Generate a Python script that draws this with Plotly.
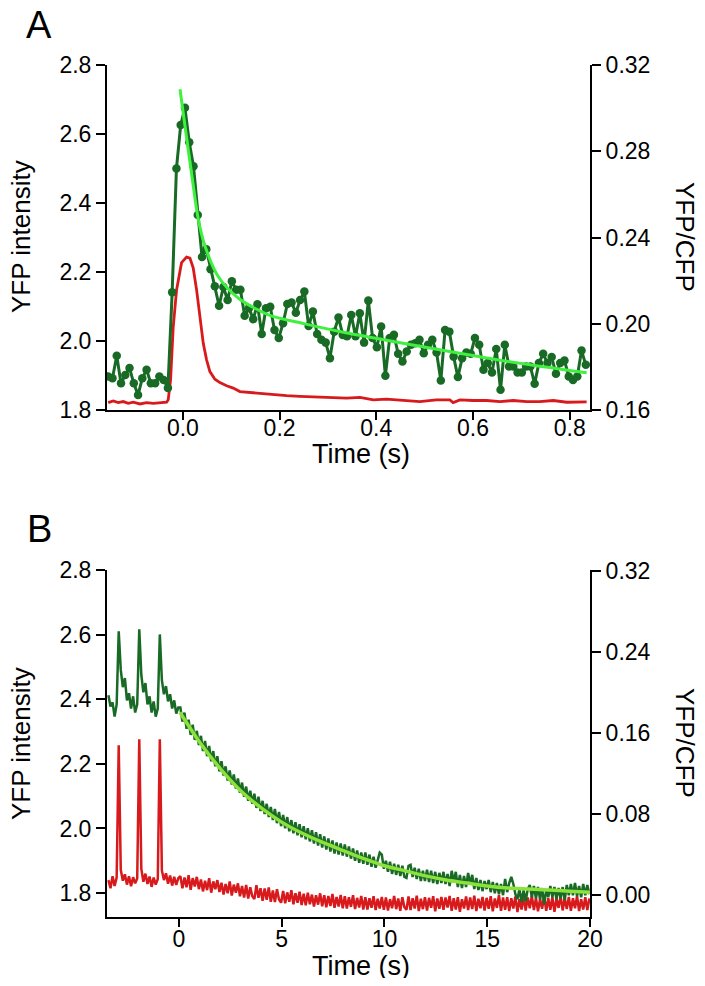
import plotly.graph_objects as go

# ---------------- Panel A data ----------------
A_T0 = -0.1545          # time of first sample (s)
A_DT = 0.00882          # sampling interval (s)
A_ratio = [0.1755, 0.1747, 0.1851, 0.1723, 0.1762, 0.1794, 0.1723, 0.1669, 0.1747, 0.1786,
           0.1723, 0.1723, 0.1755, 0.1739, 0.1701, 0.2146, 0.2720, 0.2922, 0.3002, 0.2842,
           0.2731, 0.2504, 0.2309, 0.2346, 0.2253, 0.2174, 0.2083, 0.2170, 0.2110, 0.2197,
           0.2157, 0.2157, 0.2037, 0.2072, 0.2021, 0.2090, 0.1952, 0.2072, 0.2078, 0.1971,
           0.1933, 0.2002, 0.2091, 0.2098, 0.2051, 0.2110, 0.2149, 0.1989, 0.2056, 0.1952,
           0.1925, 0.1912, 0.1840, 0.1963, 0.2029, 0.1947, 0.1942, 0.2040, 0.1942, 0.2048,
           0.1912, 0.2107, 0.1933, 0.1891, 0.1987, 0.1758, 0.1933, 0.1948, 0.1860, 0.1824,
           0.1871, 0.1902, 0.1909, 0.1925, 0.1863, 0.1902, 0.1925, 0.1866, 0.1736, 0.1971,
           0.1963, 0.1847, 0.1752, 0.1840, 0.1866, 0.1860, 0.1933, 0.1902, 0.1786, 0.1817,
           0.1773, 0.1882, 0.1693, 0.1902, 0.1801, 0.1801, 0.1773, 0.1773, 0.1801, 0.1801,
           0.1721, 0.1817, 0.1860, 0.1817, 0.1845, 0.1767, 0.1817, 0.1829, 0.1755, 0.1739,
           0.1755, 0.1875, 0.1809]
A_time = [A_T0 + i * A_DT for i in range(len(A_ratio))]

A_red_t = [-0.1545, -0.1441, -0.1338, -0.1234, -0.1131, -0.1027, -0.0889, -0.0751, -0.0614,
           -0.0476, -0.0337, -0.0304, -0.0255, -0.0200, -0.0131, -0.0028, 0.0076, 0.0145,
           0.0214, 0.0283, 0.0352, 0.0421, 0.0490, 0.0558, 0.0662, 0.0765, 0.0904, 0.1041,
           0.1179, 0.1317, 0.1524, 0.1731, 0.1938, 0.2145, 0.2420, 0.2765, 0.3109, 0.3386,
           0.3661, 0.394, 0.421, 0.449, 0.490, 0.524, 0.552, 0.559, 0.573, 0.600, 0.628,
           0.656, 0.683, 0.711, 0.738, 0.766, 0.794, 0.835]
A_red_v = [1.821, 1.826, 1.821, 1.824, 1.819, 1.822, 1.817, 1.821, 1.819,
           1.821, 1.822, 1.829, 1.887, 2.041, 2.148, 2.227, 2.243, 2.240,
           2.211, 2.148, 2.061, 1.993, 1.945, 1.911, 1.889, 1.879, 1.870, 1.863,
           1.853, 1.851, 1.849, 1.846, 1.843, 1.841, 1.839, 1.837, 1.837, 1.834,
           1.836, 1.829, 1.831, 1.829, 1.824, 1.829, 1.829, 1.821, 1.829, 1.827, 1.827,
           1.824, 1.827, 1.824, 1.824, 1.827, 1.822, 1.823]

A_fit_t = [-0.006, 0.004, 0.019, 0.032, 0.046, 0.073, 0.115, 0.177, 0.25, 0.332, 0.49, 0.662, 0.835]
A_fit_r = [0.3088, 0.2922, 0.268, 0.2482, 0.2358, 0.2219, 0.2118, 0.2041, 0.2000, 0.1960, 0.1895, 0.1828, 0.1772]

# ---------------- Panel B data ----------------
B_T0 = -3.43
B_DT = 0.1
B_ratio = [0.197, 0.186, 0.190, 0.176, 0.188, 0.260, 0.222, 0.205, 0.214, 0.192,
           0.199, 0.184, 0.196, 0.180, 0.188, 0.262, 0.217, 0.200, 0.209, 0.188,
           0.196, 0.180, 0.191, 0.176, 0.184, 0.257, 0.212, 0.198, 0.206, 0.191,
           0.198, 0.184, 0.192, 0.179, 0.185,
           0.185, 0.171, 0.180, 0.164, 0.173, 0.158, 0.168, 0.153, 0.162, 0.148,
           0.157, 0.142, 0.152, 0.137, 0.147, 0.132, 0.142, 0.127, 0.137, 0.122,
           0.132, 0.118, 0.127, 0.113, 0.123, 0.109, 0.119, 0.105, 0.115, 0.101,
           0.111, 0.097, 0.107, 0.093, 0.103, 0.090, 0.100, 0.086, 0.097, 0.083,
           0.093, 0.080, 0.090, 0.077, 0.087, 0.074, 0.085, 0.071, 0.082, 0.068,
           0.079, 0.066, 0.077, 0.063, 0.074, 0.061, 0.072, 0.059, 0.070, 0.057,
           0.068, 0.055, 0.066, 0.053, 0.064, 0.051, 0.062, 0.049, 0.060, 0.047,
           0.058, 0.045, 0.056, 0.043, 0.054, 0.041, 0.052, 0.040, 0.051, 0.039,
           0.050, 0.038, 0.048, 0.036, 0.046, 0.034, 0.044, 0.032, 0.042, 0.031,
           0.042, 0.030, 0.040, 0.028, 0.038, 0.027, 0.036, 0.042, 0.040, 0.026,
           0.034, 0.023, 0.033, 0.021, 0.031, 0.020, 0.030, 0.019, 0.029, 0.018,
           0.017, 0.029, 0.030, 0.018, 0.027, 0.016, 0.026, 0.014, 0.024, 0.014,
           0.025, 0.013, 0.024, 0.012, 0.023, 0.011, 0.022, 0.012, 0.023, 0.011,
           0.021, 0.009, 0.024, 0.013, 0.023, 0.008, 0.020, 0.007, 0.019, 0.008,
           0.022, 0.011, 0.020, 0.006, 0.017, 0.005, 0.015, 0.004, 0.014, 0.006,
           0.015, 0.003, 0.013, 0.002, 0.012, 0.001, 0.011, 0.000, 0.016, 0.003,
           0.012, 0.018, 0.011, 0.001, -0.004, 0.006, -0.007, 0.005, -0.006, 0.006,
           0.010, -0.002, 0.009, -0.003, 0.008, -0.004, 0.007, -0.009, 0.005, -0.002,
           0.009, -0.002, 0.008, -0.004, 0.007, -0.003, 0.008, -0.005, 0.010, 0.000,
           0.011, 0.000, 0.012, -0.001, 0.009, -0.002, 0.011, 0.000, 0.010, 0.001]
B_red = [1.840, 1.815, 1.852, 1.822, 1.848, 2.258, 1.872, 1.838, 1.858, 1.826,
         1.852, 1.821, 1.849, 1.830, 1.845, 2.276, 1.875, 1.835, 1.860, 1.828,
         1.851, 1.819, 1.848, 1.826, 1.843, 2.276, 1.870, 1.840, 1.861, 1.829,
         1.854, 1.823, 1.850, 1.825, 1.846,
         1.852, 1.815, 1.848, 1.818, 1.855, 1.810, 1.846, 1.820, 1.850, 1.812,
         1.842, 1.805, 1.838, 1.809, 1.846, 1.801, 1.836, 1.812, 1.840, 1.803,
         1.832, 1.795, 1.828, 1.799, 1.836, 1.792, 1.826, 1.801, 1.830, 1.790,
         1.822, 1.786, 1.825, 1.783, 1.818, 1.790, 1.781, 1.824, 1.785, 1.815,
         1.776, 1.814, 1.779, 1.817, 1.773, 1.808, 1.772, 1.812, 1.780, 1.770,
         1.806, 1.768, 1.802, 1.773, 1.809, 1.765, 1.799, 1.770, 1.804, 1.763,
         1.798, 1.762, 1.801, 1.765, 1.795, 1.758, 1.793, 1.764, 1.799, 1.759,
         1.793, 1.756, 1.791, 1.760, 1.797, 1.754, 1.788, 1.758, 1.794, 1.753,
         1.790, 1.752, 1.787, 1.757, 1.793, 1.750, 1.785, 1.755, 1.791, 1.749,
         1.787, 1.749, 1.784, 1.754, 1.790, 1.747, 1.782, 1.752, 1.788, 1.748,
         1.786, 1.746, 1.781, 1.753, 1.791, 1.750, 1.783, 1.745, 1.787, 1.756,
         1.748, 1.789, 1.747, 1.784, 1.752, 1.792, 1.744, 1.782, 1.750, 1.787,
         1.746, 1.785, 1.754, 1.790, 1.743, 1.783, 1.751, 1.788, 1.748, 1.786,
         1.755, 1.791, 1.745, 1.784, 1.749, 1.787, 1.742, 1.781, 1.752, 1.789,
         1.747, 1.786, 1.750, 1.792, 1.744, 1.782, 1.753, 1.788, 1.746, 1.785,
         1.751, 1.790, 1.743, 1.783, 1.754, 1.793, 1.745, 1.786, 1.748, 1.787,
         1.744, 1.784, 1.752, 1.789, 1.741, 1.781, 1.749, 1.788, 1.746, 1.786,
         1.753, 1.792, 1.747, 1.785, 1.743, 1.782, 1.751, 1.790, 1.745, 1.784,
         1.748, 1.787, 1.742, 1.783, 1.754, 1.791, 1.746, 1.785, 1.750, 1.788,
         1.745, 1.784, 1.753, 1.790, 1.744, 1.781, 1.749, 1.787, 1.747, 1.783]
B_time = [B_T0 + i * B_DT for i in range(len(B_red))]

B_fit_t = [0.05, 1, 2, 3, 4, 5, 6, 7, 8, 9, 10, 11, 12, 13, 14, 15, 16, 17, 18, 19, 20]
B_fit_r = [0.180, 0.151, 0.125, 0.103, 0.086, 0.072, 0.061, 0.052, 0.044, 0.036, 0.029,
           0.024, 0.019, 0.015, 0.012, 0.009, 0.007, 0.006, 0.005, 0.004, 0.003]

A_xticks = [0.0, 0.2, 0.4, 0.6, 0.8]
A_yticks = [1.8, 2.0, 2.2, 2.4, 2.6, 2.8]
A_y2ticks = [0.16, 0.20, 0.24, 0.28, 0.32]
B_xticks = [0, 5, 10, 15, 20]
B_yticks = [1.8, 2.0, 2.2, 2.4, 2.6, 2.8]
B_y2ticks = [0.00, 0.08, 0.16, 0.24, 0.32]

RED = "#d81a1c"
DKGREEN = "#186a24"
FIT_A = "#3ff03f"
FIT_B = "#8ce23a"
FONT = "Liberation Sans, Arial, sans-serif"

# the page body has an 8px margin: the figure is 16px smaller than the window
OFF = 8
W, H = 705 - 2 * OFF, 986 - 2 * OFF

fig = go.Figure()
fig.add_trace(go.Scatter(x=A_red_t, y=A_red_v, mode="lines", line=dict(color=RED, width=2.8),
                         xaxis="x", yaxis="y", showlegend=False))
fig.add_trace(go.Scatter(x=A_time, y=A_ratio, mode="lines+markers",
                         line=dict(color=DKGREEN, width=3),
                         marker=dict(color=DKGREEN, size=8.5),
                         xaxis="x", yaxis="y2", showlegend=False))
fig.add_trace(go.Scatter(x=A_fit_t, y=A_fit_r, mode="lines",
                         line=dict(color=FIT_A, width=3, shape="spline", smoothing=0.8),
                         xaxis="x", yaxis="y2", showlegend=False))

fig.add_trace(go.Scatter(x=B_time, y=B_red, mode="lines", line=dict(color=RED, width=2.5),
                         xaxis="x2", yaxis="y3", showlegend=False))
fig.add_trace(go.Scatter(x=B_time, y=B_ratio, mode="lines", line=dict(color=DKGREEN, width=2.5),
                         xaxis="x2", yaxis="y4", showlegend=False))
fig.add_trace(go.Scatter(x=B_fit_t, y=B_fit_r, mode="lines",
                         line=dict(color=FIT_B, width=3.5, shape="spline", smoothing=0.8),
                         xaxis="x2", yaxis="y4", showlegend=False))

def px_x(p):
    return (p - OFF) / W

def px_y(p):
    return 1 - (p - OFF) / H

axis_common = dict(showline=True, linecolor="black", linewidth=2, ticks="outside",
                   ticklen=9, tickwidth=2, tickcolor="black", showgrid=False, zeroline=False,
                   automargin=False,
                   tickfont=dict(family=FONT, size=23, color="black"))
xA_common = dict(axis_common, ticklen=8, ticklabelstandoff=-12)
xB_common = dict(axis_common, ticklen=8, ticklabelstandoff=-8)

xdom = [px_x(107), px_x(590)]
fig.update_layout(
    width=W, height=H, autosize=False,
    margin=dict(l=0, r=0, t=0, b=0, pad=0, autoexpand=False),
    paper_bgcolor="white", plot_bgcolor="white", showlegend=False,
    xaxis=dict(domain=xdom, range=[-0.157, 0.842], tickvals=A_xticks, tickformat=".1f",
               anchor="y", **xA_common),
    yaxis=dict(domain=[px_y(410), px_y(65)], range=[1.7995, 2.8005], tickvals=A_yticks,
               tickformat=".1f", anchor="x", **axis_common),
    yaxis2=dict(domain=[px_y(410), px_y(65)], range=[0.15992, 0.32008], tickvals=A_y2ticks,
                tickformat=".2f", overlaying="y", side="right", anchor="x", **axis_common),
    xaxis2=dict(domain=xdom, range=[-3.5, 20.0], tickvals=B_xticks, anchor="y3", **xB_common),
    yaxis3=dict(domain=[px_y(917), px_y(570)], range=[1.7257, 2.8005], tickvals=B_yticks,
                tickformat=".1f", anchor="x2", **axis_common),
    yaxis4=dict(domain=[px_y(917), px_y(570)], range=[-0.0215, 0.3205], tickvals=B_y2ticks,
                tickformat=".2f", overlaying="y3", side="right", anchor="x2", **axis_common),
)

def label(text, x, y, size, angle=0):
    fig.add_annotation(text=text, x=px_x(x), y=px_y(y), xref="paper", yref="paper",
                       showarrow=False, textangle=angle, xanchor="center", yanchor="middle",
                       font=dict(family=FONT, size=size, color="black"))

label("A", 39, 25, 38)
label("B", 39, 529, 38)
label("YFP intensity", 21, 237, 26, -90)
label("YFP intensity", 21, 744, 26, -90)
label("YFP/CFP", 685, 237, 26, 90)
label("YFP/CFP", 685, 743, 26, 90)
label("Time (s)", 361, 454, 27)
label("Time (s)", 361, 966, 27)

fig.write_html("out.html")
